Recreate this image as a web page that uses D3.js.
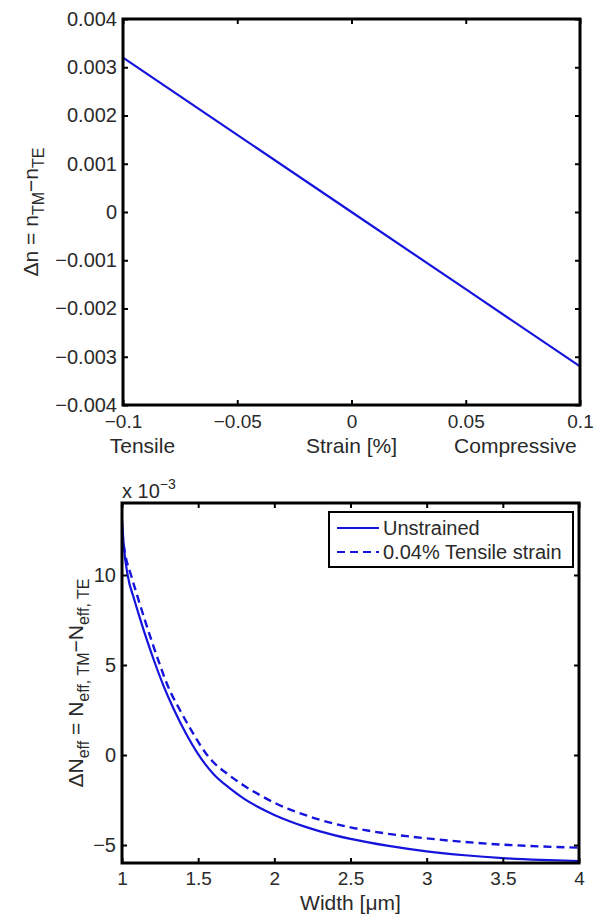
<!DOCTYPE html>
<html>
<head>
<meta charset="utf-8">
<script src="https://cdn.jsdelivr.net/npm/d3@7/dist/d3.min.js"></script>
<style>
  html, body { margin: 0; padding: 0; background: #fff; }
  svg { display: block; font-family: "Liberation Sans", Arial, Helvetica, sans-serif; }
</style>
</head>
<body>
<svg id="chart" width="594" height="918"></svg>
<script>
// ---------- Data ----------
// Top panel: birefringence vs strain
const strainValues = [-0.1, -0.05, 0, 0.05, 0.1];
const deltaNValues = [0.0032, 0.0016, 0, -0.0016, -0.0032];
const strainTicks = [-0.1, -0.05, 0, 0.05, 0.1];
const deltaNTicks = [-0.004, -0.003, -0.002, -0.001, 0, 0.001, 0.002, 0.003, 0.004];

// Bottom panel: effective-index birefringence (x 10^-3) vs width [um]
const widthUnstrained = [1.0, 1.012, 1.037, 1.08, 1.125, 1.165, 1.21, 1.27, 1.337, 1.42, 1.5, 1.55, 1.6, 1.7, 1.8, 1.9, 2.0, 2.1, 2.2, 2.3, 2.5, 2.75, 3.0, 3.25, 3.5, 3.75, 4.0];
const dNUnstrained   = [13.1, 11.6, 10.0, 8.65, 7.4, 6.35, 5.25, 3.9, 2.6, 1.2, 0.05, -0.55, -1.05, -1.8, -2.42, -2.92, -3.33, -3.68, -3.98, -4.24, -4.66, -5.05, -5.35, -5.57, -5.73, -5.83, -5.89];
const widthTensile   = [1.0, 1.02, 1.059, 1.1, 1.15, 1.2, 1.245, 1.3, 1.38, 1.46, 1.55, 1.6, 1.7, 1.8, 1.9, 2.0, 2.1, 2.2, 2.3, 2.5, 2.75, 3.0, 3.25, 3.5, 3.75, 4.0];
const dNTensile      = [12.4, 11.2, 10.0, 8.85, 7.5, 6.2, 5.1, 3.85, 2.5, 1.3, 0.1, -0.4, -1.1, -1.7, -2.2, -2.65, -3.02, -3.33, -3.6, -4.02, -4.38, -4.63, -4.83, -4.98, -5.08, -5.15];
const widthTicks = [1, 1.5, 2, 2.5, 3, 3.5, 4];
const dNTicks = [-5, 0, 5, 10];
const seriesNames = ["Unstrained", "0.04% Tensile strain"];
const strainSubLabels = ["Tensile", "Strain [%]", "Compressive"];
const strainSubAt = [-0.0915, 0, 0.0717];

// ---------- Drawing ----------
const svg = d3.select("#chart");
svg.append("rect").attr("width", 594).attr("height", 918).attr("fill", "#fff");

const BLUE = "#1414dc";
const TXT = "#2a2a2a";
const labelFont = 21;
const fmtMinus = s => String(s).replace("-", "\u2212");

function drawFrame(g, x, y, xTicks, yTicks, xFmt, yFmt, xPad, yPad, xFont, yFont) {
  const [x0, x1] = x.range();
  const [y0, y1] = y.range(); // y0 bottom, y1 top
  const tl = 5;
  const ab = g.append("g").attr("transform", `translate(0,${y0})`)
    .call(d3.axisBottom(x).tickValues(xTicks).tickFormat(xFmt).tickSizeInner(-tl).tickSizeOuter(0).tickPadding(xPad));
  const at = g.append("g").attr("transform", `translate(0,${y1})`)
    .call(d3.axisTop(x).tickValues(xTicks).tickFormat("").tickSizeInner(-tl).tickSizeOuter(0));
  const al = g.append("g").attr("transform", `translate(${x0},0)`)
    .call(d3.axisLeft(y).tickValues(yTicks).tickFormat(yFmt).tickSizeInner(-tl).tickSizeOuter(0).tickPadding(yPad));
  const ar = g.append("g").attr("transform", `translate(${x1},0)`)
    .call(d3.axisRight(y).tickValues(yTicks).tickFormat("").tickSizeInner(-tl).tickSizeOuter(0));
  [ab, at, al, ar].forEach(a => {
    a.select(".domain").remove();
    a.selectAll("line").attr("stroke", "#000").attr("stroke-width", 2);
    a.selectAll("text").attr("fill", TXT)
      .style("font-family", '"Liberation Sans", Arial, sans-serif');
  });
  ab.selectAll("text").style("font-size", xFont + "px");
  al.selectAll("text").style("font-size", yFont + "px");
  g.append("rect")
    .attr("x", x0).attr("y", y1).attr("width", x1 - x0).attr("height", y0 - y1)
    .attr("fill", "none").attr("stroke", "#000").attr("stroke-width", 3);
}

// ---- Top panel ----
const xTop = d3.scaleLinear().domain([-0.1, 0.1]).range([123, 580]);
const yTop = d3.scaleLinear().domain([-0.004, 0.004]).range([405, 19]);
const gTop = svg.append("g");

gTop.append("path")
  .datum(strainValues.map((s, i) => [s, deltaNValues[i]]))
  .attr("fill", "none").attr("stroke", BLUE).attr("stroke-width", 2.2)
  .attr("d", d3.line().x(d => xTop(d[0])).y(d => yTop(d[1])));

drawFrame(gTop, xTop, yTop, strainTicks, deltaNTicks,
  d => fmtMinus(d3.format("")(d)),
  d => d === 0 ? "0" : fmtMinus(d3.format(".3f")(d)), 10, 6, 19, 20);

gTop.selectAll("text.xsub").data(strainSubLabels).enter().append("text")
  .attr("class", "xsub")
  .attr("x", (d, i) => xTop(strainSubAt[i])).attr("y", 453)
  .attr("text-anchor", "middle").attr("fill", TXT)
  .style("font-size", labelFont + "px")
  .text(d => d);

const ylTop = gTop.append("text")
  .attr("transform", `translate(38,${yTop(0)}) rotate(-90)`)
  .attr("text-anchor", "middle").attr("fill", TXT)
  .style("font-size", labelFont + "px");
ylTop.append("tspan").text("\u0394n = n");
ylTop.append("tspan").attr("dy", 6).style("font-size", "16px").text("TM");
ylTop.append("tspan").attr("dy", -6).text("\u2212n");
ylTop.append("tspan").attr("dy", 6).style("font-size", "16px").text("TE");

// ---- Bottom panel ----
const xBot = d3.scaleLinear().domain([1, 4]).range([122, 579]);
const yBot = d3.scaleLinear().domain([-6, 14]).range([863, 503]);
const gBot = svg.append("g");
const lineBot = d3.line().curve(d3.curveMonotoneX).x(d => xBot(d[0])).y(d => yBot(d[1]));

gBot.append("path")
  .datum(widthUnstrained.map((w, i) => [w, dNUnstrained[i]]))
  .attr("fill", "none").attr("stroke", BLUE).attr("stroke-width", 2.2)
  .attr("d", lineBot);
gBot.append("path")
  .datum(widthTensile.map((w, i) => [w, dNTensile[i]]))
  .attr("fill", "none").attr("stroke", BLUE).attr("stroke-width", 2.4)
  .attr("stroke-dasharray", "8,5")
  .attr("d", lineBot);

drawFrame(gBot, xBot, yBot, widthTicks, dNTicks,
  d => d3.format("")(d),
  d => fmtMinus(d3.format("")(d)), 9, 6, 19, 20);

const exp = gBot.append("text").attr("x", 122).attr("y", 498).attr("fill", TXT)
  .style("font-size", "20px");
exp.append("tspan").text("x 10");
exp.append("tspan").attr("dy", -9).style("font-size", "14px").text("\u22123");

gBot.append("text").attr("x", xBot(2.5)).attr("y", 910).attr("text-anchor", "middle")
  .attr("fill", TXT).style("font-size", labelFont + "px").text("Width [\u03bcm]");

const ylBot = gBot.append("text")
  .attr("transform", `translate(83,${(yBot(-6) + yBot(14)) / 2}) rotate(-90)`)
  .attr("text-anchor", "middle").attr("fill", TXT)
  .style("font-size", labelFont + "px");
ylBot.append("tspan").text("\u0394N");
ylBot.append("tspan").attr("dy", 6).style("font-size", "16px").text("eff");
ylBot.append("tspan").attr("dy", -6).text(" = N");
ylBot.append("tspan").attr("dy", 6).style("font-size", "16px").text("eff, TM");
ylBot.append("tspan").attr("dy", -6).text("\u2212N");
ylBot.append("tspan").attr("dy", 6).style("font-size", "16px").text("eff, TE");

// legend
const leg = gBot.append("g");
leg.append("rect").attr("x", 329).attr("y", 512).attr("width", 244).attr("height", 55)
  .attr("fill", "#fff").attr("stroke", "#000").attr("stroke-width", 2);
seriesNames.forEach((name, i) => {
  const yy = 528 + i * 24;
  leg.append("line").attr("x1", 337).attr("x2", 379).attr("y1", yy).attr("y2", yy)
    .attr("stroke", BLUE).attr("stroke-width", 2.2)
    .attr("stroke-dasharray", i === 1 ? "8,5" : null);
  leg.append("text").attr("x", 383).attr("y", yy + 7).attr("fill", TXT)
    .style("font-size", "20px").text(name);
});
</script>
</body>
</html>
